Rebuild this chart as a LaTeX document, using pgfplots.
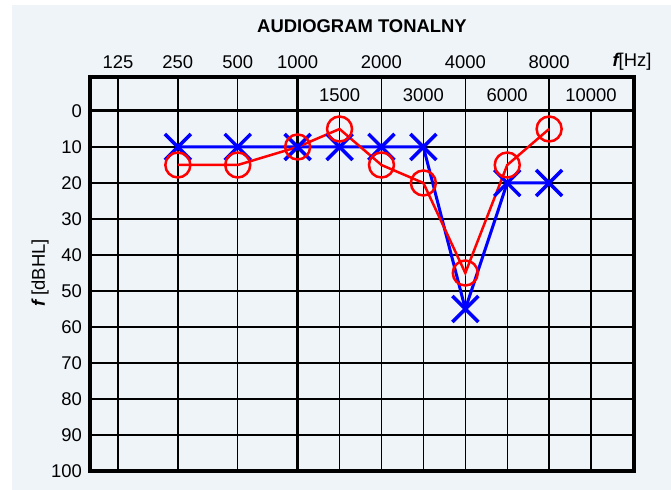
\documentclass[border=0pt]{standalone}
\usepackage{pgfplots}
\pgfplotsset{compat=1.18}
\usepackage{fontspec}
\setmainfont{Liberation Sans}
\definecolor{panel}{HTML}{EFF4F9}
\newcommand{\lbl}{\fontsize{18.5}{21}\selectfont}
\begin{document}
\begin{tikzpicture}[x=1bp,y=1bp]
\fill[white] (0,0) rectangle (671,490);
\fill[panel] (12,0) rectangle (671,485);
\path[use as bounding box] (0,0) rectangle (671,490);
% x positions: 125=0, 250=1, 500=2, 1000=3, 1500=3.7, 2000=4.4, 3000=5.1, 4000=5.8, 6000=6.5, 8000=7.2, 10000=7.9
\begin{axis}[
  at={(90bp,19bp)}, anchor=south west,
  scale only axis, width=544bp, height=394.2bp,
  xmin=-0.467, xmax=8.617, ymin=-9.5, ymax=100, y dir=reverse,
  clip=false,
  axis line style={draw=none},
  major tick length=0pt,
  xtick={0,1,2,3,4.4,5.8,7.2},
  xticklabels={125,250,500,1000,2000,4000,8000},
  xticklabel pos=upper,
  xticklabel style={anchor=center, yshift=15bp, inner sep=0pt},
  ytick={0,10,...,100},
  yticklabel style={anchor=east, inner sep=0pt, xshift=-8bp},
  /pgf/number format/assume math mode=true,
  tick label style={font=\lbl},
]
% grid
\pgfplotsinvokeforeach{0,1,2,4.4,5.8,7.2}{\draw[line width=1.4bp] (axis cs:#1,-9.5) -- (axis cs:#1,100);}
\pgfplotsinvokeforeach{3.7,5.1,6.5,7.9}{\draw[line width=1.4bp] (axis cs:#1,0) -- (axis cs:#1,100);}
\pgfplotsinvokeforeach{10,20,30,40,50,60,70,80,90}{\draw[line width=1.4bp] (axis cs:-0.467,#1) -- (axis cs:8.617,#1);}
\draw[line width=3bp] (axis cs:3,-9.5) -- (axis cs:3,100);
\draw[line width=3bp] (axis cs:-0.467,0) -- (axis cs:8.617,0);
\draw[line width=3.5bp] (axis cs:-0.467,-9.5) rectangle (axis cs:8.617,100);
% header labels
\node[font=\lbl] at (axis cs:3.7,-4.3) {1500};
\node[font=\lbl] at (axis cs:5.1,-4.3) {3000};
\node[font=\lbl] at (axis cs:6.5,-4.3) {6000};
\node[font=\lbl] at (axis cs:7.9,-4.3) {10000};
\node[font=\lbl, inner sep=0pt] at ([xshift=-2bp,yshift=15bp]axis cs:8.617,-9.5) {{\bfseries\itshape f}[Hz]};
\node[font=\lbl\bfseries, inner sep=0pt] at ([yshift=51bp]axis cs:4.075,-9.5) {AUDIOGRAM TONALNY};
\node[font=\lbl, rotate=90, inner sep=0pt] at ([xshift=-50bp]axis cs:-0.467,45) {{\bfseries\itshape f} [dBHL]};
% data
\addplot[blue, line width=3bp, mark=x, mark size=18.4bp, mark options={line width=3.5bp}]
  coordinates {(1,10)(2,10)(3,10)(3.7,10)(4.4,10)(5.1,10)(5.8,55)(6.5,20)(7.2,20)};
\addplot[red, line width=2.5bp, mark=o, mark size=12.5bp, mark options={line width=2.5bp}]
  coordinates {(1,15)(2,15)(3,10)(3.7,5)(4.4,15)(5.1,20)(5.8,45)(6.5,15)(7.2,5)};
\end{axis}
\end{tikzpicture}
\end{document}
